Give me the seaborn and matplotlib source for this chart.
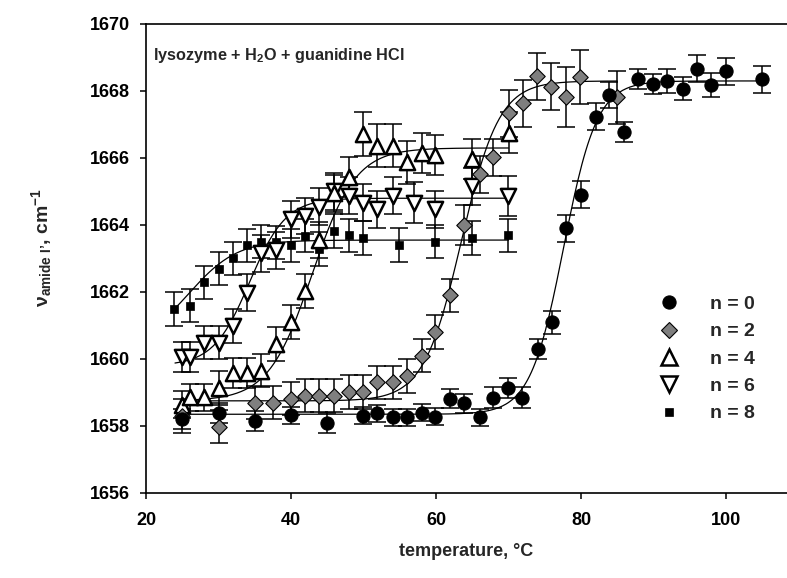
import numpy as np
import pandas as pd
import matplotlib
matplotlib.use("Agg")
import matplotlib.pyplot as plt
from matplotlib.lines import Line2D
import seaborn as sns

# ---- measured amide I' band positions (cm^-1) vs temperature (deg C) ----
t_n0 = [24.9, 30.0, 35.0, 40.0, 44.9, 49.9, 51.9, 54.0, 56.0, 58.0, 59.9, 61.9,
        63.9, 66.0, 67.9, 69.9, 71.9, 74.0, 76.0, 77.9, 80.0, 82.0, 83.9, 85.9,
        87.9, 89.9, 91.9, 94.0, 96.0, 97.9, 100.0, 105.0]
v_n0 = [1658.20, 1658.40, 1658.16, 1658.32, 1658.09, 1658.31, 1658.38, 1658.26,
        1658.26, 1658.40, 1658.28, 1658.82, 1658.68, 1658.26, 1658.85, 1659.13,
        1658.85, 1660.29, 1661.09, 1663.90, 1664.90, 1667.23, 1667.88, 1666.77,
        1668.35, 1668.21, 1668.30, 1668.07, 1668.67, 1668.18, 1668.59, 1668.35]
e_n0 = [0.30, 0.30, 0.30, 0.25, 0.30, 0.25, 0.25, 0.25, 0.25, 0.25, 0.25, 0.28,
        0.28, 0.25, 0.30, 0.30, 0.30, 0.30, 0.35, 0.40, 0.40, 0.40, 0.40, 0.30,
        0.30, 0.30, 0.35, 0.35, 0.40, 0.35, 0.40, 0.40]

t_n2 = [24.9, 30.0, 35.0, 37.5, 40.0, 41.9, 43.9, 45.9, 48.0, 49.9, 51.9, 54.0,
        56.0, 58.0, 59.9, 61.9, 63.9, 66.0, 67.9, 70.0, 72.0, 73.9, 75.9, 77.9,
        79.9, 85.0]
v_n2 = [1658.30, 1657.98, 1658.70, 1658.70, 1658.82, 1658.91, 1658.91, 1658.91,
        1659.01, 1659.01, 1659.30, 1659.30, 1659.49, 1660.10, 1660.80, 1661.90,
        1664.01, 1665.51, 1666.02, 1667.33, 1667.63, 1668.44, 1668.13, 1667.82,
        1668.42, 1667.81]
e_n2 = [0.50, 0.50, 0.50, 0.50, 0.50, 0.50, 0.50, 0.50, 0.50, 0.50, 0.50, 0.50,
        0.50, 0.50, 0.50, 0.50, 0.60, 0.55, 0.55, 0.70, 0.70, 0.70, 0.70, 0.90,
        0.80, 0.80]

t_n4 = [24.9, 26.0, 28.0, 30.0, 32.0, 33.9, 35.9, 37.9, 40.0, 41.9, 43.9, 45.9,
        48.0, 49.9, 51.9, 54.0, 56.0, 58.0, 59.9, 65.0, 70.0]
v_n4 = [1658.63, 1658.86, 1658.86, 1659.13, 1659.57, 1659.57, 1659.65, 1660.45,
        1661.11, 1662.03, 1663.55, 1664.95, 1665.44, 1666.71, 1666.37, 1666.37,
        1665.87, 1666.16, 1666.09, 1665.96, 1666.76]
e_n4 = [0.40, 0.40, 0.40, 0.50, 0.45, 0.45, 0.50, 0.50, 0.50, 0.50, 0.55, 0.55,
        0.60, 0.65, 0.65, 0.65, 0.65, 0.60, 0.60, 0.60, 0.60]

t_n6 = [24.9, 26.0, 28.0, 30.0, 32.0, 33.9, 35.9, 37.9, 40.0, 41.9, 43.9, 45.9,
        48.0, 49.9, 51.9, 54.0, 57.0, 59.9, 65.0, 69.9]
v_n6 = [1660.05, 1660.05, 1660.49, 1660.49, 1660.99, 1661.98, 1663.15, 1663.25,
        1664.17, 1664.27, 1664.54, 1665.01, 1664.87, 1664.67, 1664.47, 1664.87,
        1664.67, 1664.47, 1665.16, 1664.87]
e_n6 = [0.45, 0.45, 0.50, 0.50, 0.50, 0.55, 0.55, 0.55, 0.55, 0.55, 0.55, 0.55,
        0.55, 0.55, 0.55, 0.55, 0.60, 0.55, 0.55, 0.60]

t_n8 = [23.9, 26.0, 28.0, 30.0, 32.0, 33.9, 35.9, 37.9, 40.0, 41.9, 43.9, 45.9,
        48.0, 49.9, 54.9, 59.9, 65.0, 69.9]
v_n8 = [1661.49, 1661.59, 1662.29, 1662.70, 1663.00, 1663.39, 1663.50, 1663.48,
        1663.39, 1663.68, 1663.29, 1663.82, 1663.69, 1663.61, 1663.40, 1663.50,
        1663.61, 1663.69]
e_n8 = [0.50, 0.50, 0.50, 0.50, 0.50, 0.50, 0.50, 0.50, 0.50, 0.50, 0.50, 0.50,
        0.50, 0.50, 0.50, 0.50, 0.50, 0.50]

# ---- two-state (Boltzmann) fit parameters: low plateau, high plateau, Tm, width, fit range ----
series_labels = ["n = 0", "n = 2", "n = 4", "n = 6", "n = 8"]
fit_low = [1658.35, 1658.75, 1658.75, 1659.80, 1660.40]
fit_high = [1668.30, 1668.30, 1666.30, 1664.80, 1663.55]
fit_tm = [77.6, 63.5, 42.9, 34.3, 26.0]
fit_width = [2.3, 2.6, 3.0, 2.5, 3.3]
fit_tmin = [25.0, 25.0, 25.0, 24.0, 24.0]
fit_tmax = [105.0, 85.0, 70.0, 70.0, 70.0]

x_ticks = [20, 40, 60, 80, 100]
y_ticks = [1656, 1658, 1660, 1662, 1664, 1666, 1668, 1670]

sns.set_theme(style="ticks")
plt.rcParams["font.family"] = ["Liberation Sans", "DejaVu Sans"]
plt.rcParams["font.weight"] = "bold"
plt.rcParams["mathtext.fontset"] = "custom"
plt.rcParams["mathtext.rm"] = "Liberation Sans:bold"
plt.rcParams["mathtext.it"] = "Liberation Sans:bold"
plt.rcParams["mathtext.bf"] = "Liberation Sans:bold"

fig = plt.figure(figsize=(7.87, 5.78), dpi=100)
ax = fig.add_axes([146 / 787, 1 - 493 / 578, 641 / 787, 469 / 578])

styles = [
    dict(marker="o", s=90, color="black", edgecolor="black", linewidth=0.8),
    dict(marker="D", s=62, color="#7f7f7f", edgecolor="black", linewidth=0.8),
    dict(marker="^", s=120, color="white", edgecolor="black", linewidth=1.8),
    dict(marker="v", s=120, color="white", edgecolor="black", linewidth=1.8),
    dict(marker="s", s=36, color="black", edgecolor="black", linewidth=0.5),
]

datasets = [(t_n0, v_n0, e_n0), (t_n2, v_n2, e_n2), (t_n4, v_n4, e_n4),
            (t_n6, v_n6, e_n6), (t_n8, v_n8, e_n8)]

frames = []
for lab, (t, v, e) in zip(series_labels, datasets):
    frames.append(pd.DataFrame({"T": t, "v": v, "err": e, "series": lab}))
df = pd.concat(frames, ignore_index=True)

# fitted sigmoid curves
fit_frames = []
for lab, lo, hi, tm, w, a, b in zip(series_labels, fit_low, fit_high, fit_tm,
                                    fit_width, fit_tmin, fit_tmax):
    tt = np.linspace(a, b, 300)
    vv = hi + (lo - hi) / (1 + np.exp((tt - tm) / w))
    fit_frames.append(pd.DataFrame({"T": tt, "v": vv, "series": lab}))
fit_df = pd.concat(fit_frames, ignore_index=True)

# draw order: larger open symbols underneath, filled symbols on top
order = [4, 3, 2, 1, 0]
for i in order:
    lab = series_labels[i]
    sub = df[df.series == lab]
    ax.errorbar(sub["T"], sub["v"], yerr=sub["err"], fmt="none", ecolor="black",
                elinewidth=1.1, capsize=6.5, capthick=1.1, zorder=2)

for i in order:
    lab = series_labels[i]
    sns.lineplot(data=fit_df[fit_df.series == lab], x="T", y="v", color="black",
                 linewidth=0.9, ax=ax, zorder=3, estimator=None, sort=False)

for i in order:
    lab = series_labels[i]
    sub = df[df.series == lab]
    sns.scatterplot(data=sub, x="T", y="v", ax=ax, zorder=4, legend=False,
                    **styles[i])

ax.set_xlim(20, 20 + 641 / 7.25)
ax.set_ylim(1656, 1670)
ax.set_xticks(x_ticks)
ax.set_yticks(y_ticks)
ax.set_xlabel("")
ax.set_ylabel("")
for side in ["left", "bottom", "top"]:
    ax.spines[side].set_linewidth(1.2)
    ax.spines[side].set_color("black")
ax.spines["right"].set_visible(False)
ax.tick_params(axis="both", direction="out", length=4.5, width=1.1,
               colors="black", labelsize=13)
ax.tick_params(axis="x", pad=9)
ax.tick_params(axis="y", pad=7)
for lbl in ax.get_xticklabels() + ax.get_yticklabels():
    lbl.set_fontweight("bold")

ax.text(0.011, 0.923, r"lysozyme + H$_{2}$O + guanidine HCl", transform=ax.transAxes,
        fontsize=11.7, fontweight="bold", va="baseline", ha="left")

fig.text(466 / 787, 1 - 551 / 578, "temperature, °C", ha="center", va="center",
         fontsize=13, fontweight="bold")
fig.text(42 / 787, 1 - 247 / 578, r"ν$_{\mathrm{amide\ I’}}$, cm$^{\mathrm{-1}}$",
         rotation=90, ha="center", va="center", fontsize=14, fontweight="bold")

handles = []
for i in range(5):
    st = styles[i]
    ms = np.sqrt(st["s"])
    handles.append(Line2D([], [], linestyle="none", marker=st["marker"],
                          markersize=ms, markerfacecolor=st["color"],
                          markeredgecolor="black",
                          markeredgewidth=st["linewidth"]))
leg = ax.legend(handles, series_labels, loc="center left",
                bbox_to_anchor=(0.786, 0.286), frameon=False, fontsize=14,
                handlelength=1.0, handletextpad=1.6, labelspacing=0.5,
                borderpad=0)
for txt in leg.get_texts():
    txt.set_fontweight("bold")

fig.savefig("out.png", dpi=100)
